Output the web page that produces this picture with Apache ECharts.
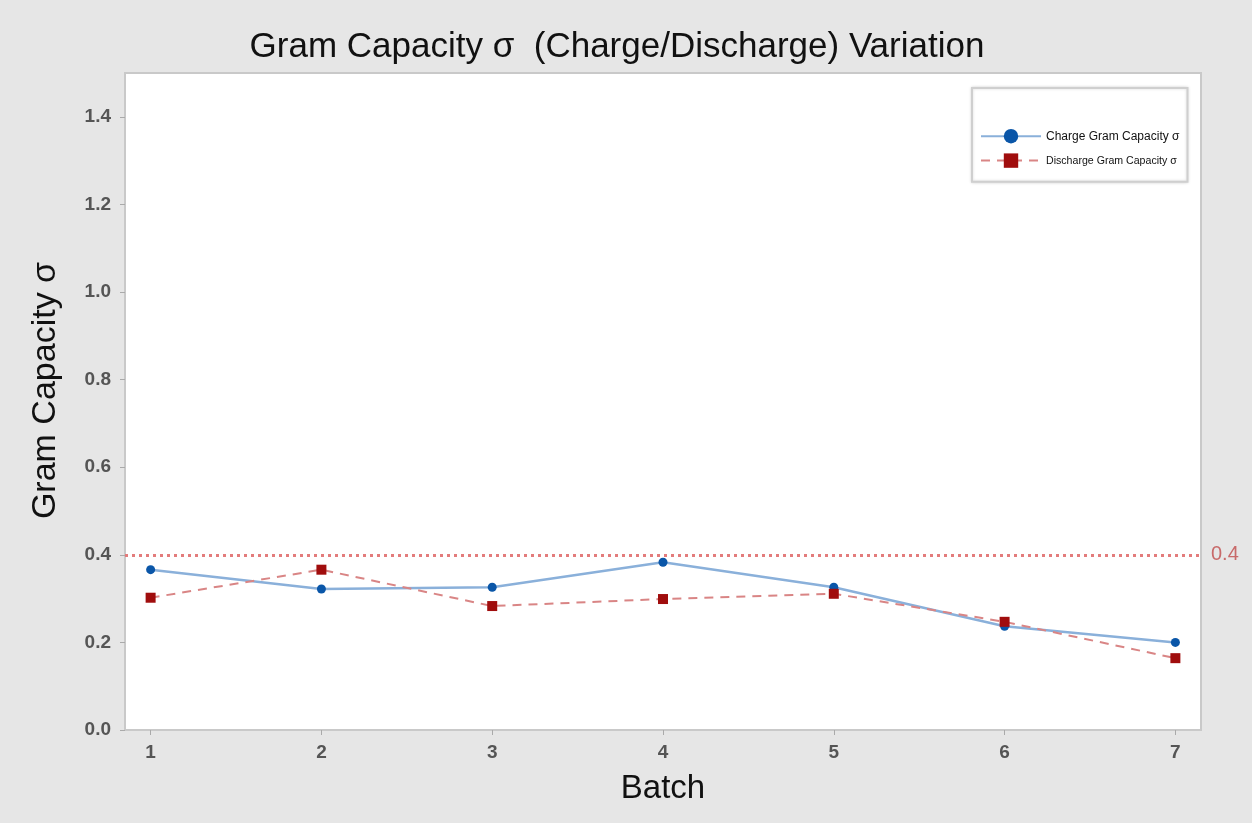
<!DOCTYPE html>
<html>
<head>
<meta charset="utf-8">
<script src="https://cdn.jsdelivr.net/npm/echarts@6/dist/echarts.min.js"></script>
<style>
html,body{margin:0;padding:0;background:#e6e6e6;}
#chart{width:1252px;height:823px;}
</style>
</head>
<body>
<div id="chart"></div>
<script>
var batches = [1, 2, 3, 4, 5, 6, 7];
var chargeSigma = [0.366, 0.322, 0.326, 0.383, 0.326, 0.237, 0.200];
var dischargeSigma = [0.302, 0.366, 0.283, 0.299, 0.311, 0.247, 0.164];
var yTicks = [0, 0.2, 0.4, 0.6, 0.8, 1.0, 1.2, 1.4];
var referenceLevel = 0.4;
var seriesNames = ['Charge Gram Capacity σ', 'Discharge Gram Capacity σ'];

function pairs(xs, ys) { return xs.map(function (x, i) { return [x, ys[i]]; }); }

var chart = echarts.init(document.getElementById('chart'));
chart.setOption({
  backgroundColor: '#e6e6e6',
  animation: false,
  textStyle: { fontFamily: 'Liberation Sans, Arial, sans-serif' },
  title: {
    text: 'Gram Capacity σ  (Charge/Discharge) Variation',
    left: 612, top: 25, textAlign: 'center',
    textStyle: { fontSize: 35, fontWeight: 'normal', color: '#111', fontFamily: 'Liberation Sans, Arial, sans-serif' }
  },
  legend: {
    orient: 'vertical',
    left: 972, top: 88,
    padding: [41, 8, 14, 8],
    itemWidth: 60, itemHeight: 18, itemGap: 10,
    backgroundColor: '#ffffff',
    borderColor: '#cfcfcf', borderWidth: 2,
    shadowColor: 'rgba(0,0,0,0.15)', shadowBlur: 3,
    textStyle: { fontSize: 12, color: '#111' },
    data: [
      { name: seriesNames[0], textStyle: { fontSize: 12 } },
      { name: seriesNames[1], textStyle: { fontSize: 10.6 } }
    ]
  },
  grid: {
    left: 125, right: 51, top: 73, bottom: 93,
    show: true, backgroundColor: '#ffffff', borderColor: '#c9c9c9', borderWidth: 2
  },
  xAxis: {
    type: 'value', min: 0.85, max: 7.15,
    name: 'Batch', nameLocation: 'middle', nameGap: 42,
    nameTextStyle: { fontSize: 33, color: '#111' },
    axisLine: { show: false },
    axisTick: { show: true, customValues: batches, length: 5, lineStyle: { color: '#aaa' } },
    axisLabel: { customValues: batches, fontSize: 19, color: '#555', fontWeight: 'bold', margin: 13,
      formatter: function (v) { return String(v); } },
    splitLine: { show: false }
  },
  yAxis: {
    type: 'value', min: 0, max: 1.5,
    name: 'Gram Capacity σ', nameLocation: 'middle', nameGap: 62,
    nameTextStyle: { fontSize: 34, color: '#111', padding: [0, 0, 0, 22] },
    axisLine: { show: false },
    axisTick: { show: true, customValues: yTicks, length: 5, lineStyle: { color: '#aaa' } },
    axisLabel: { customValues: yTicks, fontSize: 19, color: '#555', fontWeight: 'bold', margin: 14,
      formatter: function (v) { return v.toFixed(1); } },
    splitLine: { show: false }
  },
  series: [
    {
      name: seriesNames[0],
      type: 'line',
      data: pairs(batches, chargeSigma),
      symbol: 'circle', symbolSize: 9,
      itemStyle: { color: '#0a56a8' },
      lineStyle: { color: '#8ab0da', width: 2.5 },
      z: 3,
      markLine: {
        silent: true, symbol: 'none',
        data: [{ yAxis: referenceLevel }],
        lineStyle: { type: [3, 4], color: '#e37c7c', width: 3 },
        label: { position: 'end', formatter: String(referenceLevel), color: '#c86a6a', fontSize: 20, distance: 10 }
      }
    },
    {
      name: seriesNames[1],
      type: 'line',
      data: pairs(batches, dischargeSigma),
      symbol: 'rect', symbolSize: 10,
      itemStyle: { color: '#a00d0d' },
      lineStyle: { color: '#d98585', width: 2, type: [9, 7] },
      z: 4
    }
  ]
});
</script>
</body>
</html>
